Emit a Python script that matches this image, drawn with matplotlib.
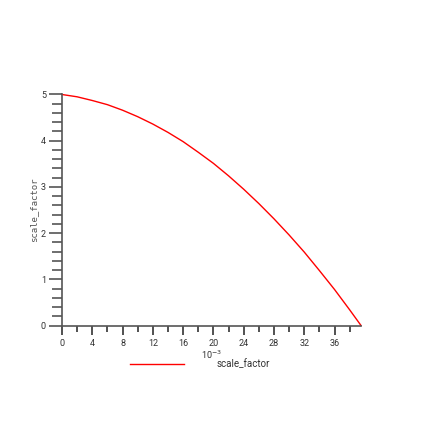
import matplotlib
matplotlib.use("Agg")
import matplotlib.pyplot as plt
from matplotlib.ticker import MultipleLocator

# values (x in units of 1e-3)
x = [0, 2, 4, 6, 8, 10, 12, 14, 16, 18, 20, 22, 24, 26, 28, 30, 32, 34, 36, 38, 39.5]
y = [5.00, 4.95, 4.87, 4.78, 4.66, 4.52, 4.36, 4.18, 3.98, 3.75, 3.51, 3.24,
     2.95, 2.64, 2.31, 1.96, 1.59, 1.19, 0.78, 0.34, 0.0]
label = "scale_factor"

plt.rcParams['font.family'] = ['Roboto', 'DejaVu Sans']

fig = plt.figure(figsize=(4.36, 4.36), dpi=100)
ax = fig.add_axes([62 / 436, 110.5 / 436, 299 / 436, 231 / 436])

line, = ax.plot(x, y, color='red', linewidth=1.0, label=label, clip_on=False)

ax.set_xlim(0, 39.5)
ax.set_ylim(0, 5)

for s in ['top', 'right']:
    ax.spines[s].set_visible(False)
for s in ['left', 'bottom']:
    ax.spines[s].set_color('#555555')
    ax.spines[s].set_linewidth(1.2)

ax.xaxis.set_major_locator(MultipleLocator(4))
ax.xaxis.set_minor_locator(MultipleLocator(2))
ax.yaxis.set_major_locator(MultipleLocator(1))
ax.yaxis.set_minor_locator(MultipleLocator(0.2))

ax.tick_params(axis='x', which='major', length=6.5, width=1.2, color='#333333',
               labelsize=6.5, labelcolor='#333333', pad=3)
ax.tick_params(axis='x', which='minor', length=4.5, width=1.2, color='#333333')
ax.tick_params(axis='y', which='major', length=9.5, width=1.2, color='#555555',
               labelsize=6.5, labelcolor='#333333', pad=2)
ax.tick_params(axis='y', which='minor', length=7, width=1.2, color='#555555')

ax.set_ylabel(label, family='DejaVu Sans Mono', fontsize=6.5, color='#555555', labelpad=2)

leg = fig.legend(handles=[line], labels=[label], loc='center left',
                 bbox_to_anchor=(130 / 436, 1 - 364.5 / 436), frameon=False,
                 fontsize=7, handlelength=5.6, handletextpad=3.3,
                 borderpad=0, borderaxespad=0)
for t in leg.get_texts():
    t.set_color('#333333')
fig.text(201 / 436, 1 - 359 / 436, r"10$^{-3}$", fontsize=6.5, color='#333333',
         va='baseline', ha='left')

fig.savefig("out.png", dpi=100)
